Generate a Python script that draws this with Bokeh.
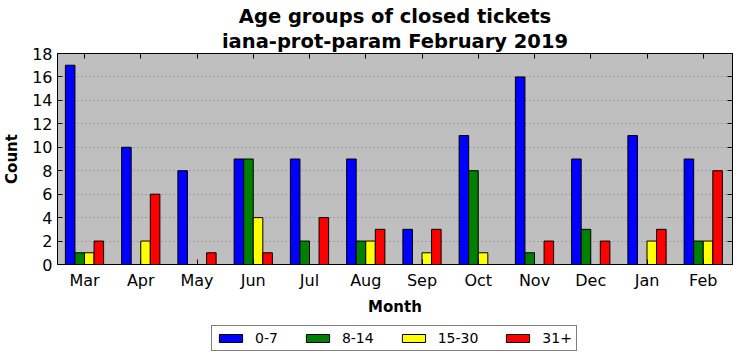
from bokeh.plotting import figure
from bokeh.layouts import column
from bokeh.models import (FixedTicker, LinearAxis, Legend, LegendItem, Range1d,
                          ColumnDataSource, Title)
from bokeh.embed import file_html
from bokeh.resources import INLINE

months = ["Mar", "Apr", "May", "Jun", "Jul", "Aug", "Sep", "Oct", "Nov", "Dec", "Jan", "Feb"]
age_0_7 = [17, 10, 8, 9, 9, 9, 3, 11, 16, 9, 11, 9]
age_8_14 = [1, 0, 0, 9, 2, 2, 0, 8, 1, 3, 0, 2]
age_15_30 = [1, 2, 0, 4, 0, 2, 1, 1, 0, 0, 2, 2]
age_31p = [2, 6, 1, 1, 4, 3, 3, 0, 2, 2, 3, 8]
series_names = ["0-7", "8-14", "15-30", "31+"]
series_values = [age_0_7, age_8_14, age_15_30, age_31p]
colors = ["#0000ff", "#008000", "#ffff00", "#ff0000"]
yticks = list(range(0, 19, 2))
title_lines = ["Age groups of closed tickets", "iana-prot-param February 2019"]

FONT = "DejaVu Sans"

p = figure(width=741, height=318, output_backend="svg", toolbar_location=None,
           title=None,
           x_range=Range1d(-0.48, 11.52), y_range=Range1d(0, 18),
           min_border_left=57, min_border_right=9, min_border_top=53,
           min_border_bottom=53)

p.background_fill_color = "#bfbfbf"
p.border_fill_color = "white"
p.outline_line_color = "black"
p.outline_line_width = 1

xs = list(range(len(months)))
bw = 0.17
offsets = [-1.5 * bw, -0.5 * bw, 0.5 * bw, 1.5 * bw]
sources = []
for name, vals, col, off in zip(series_names, series_values, colors, offsets):
    src = ColumnDataSource(dict(x=[x + off for x in xs], top=vals))
    sources.append(src)
    p.vbar(x="x", top="top", bottom=0, width=bw, source=src,
           fill_color=col, line_color="black", line_width=1)

p.xgrid.visible = False
p.ygrid.ticker = FixedTicker(ticks=yticks)
p.ygrid.grid_line_color = "#7a7a7a"
p.ygrid.grid_line_dash = "1 3"
p.ygrid.grid_line_width = 1

xticker = FixedTicker(ticks=xs)
ax = p.xaxis[0]
ax.ticker = xticker
ax.major_label_overrides = {i: m for i, m in enumerate(months)}
ax.axis_label = "Month"
ay = p.yaxis[0]
ay.ticker = FixedTicker(ticks=yticks)
ay.axis_label = "Count"

for a in (ax, ay):
    a.major_tick_in = 5
    a.major_tick_out = 0
    a.minor_tick_line_color = None
    a.axis_line_color = "black"
    a.major_tick_line_color = "black"
    a.major_label_text_font = FONT
    a.major_label_text_font_size = "16px"
    a.major_label_text_color = "black"
    a.axis_label_text_font = FONT
    a.axis_label_text_font_size = "15px"
    a.axis_label_text_font_style = "bold"
    a.axis_label_text_color = "black"
ax.major_label_standoff = 6
ax.axis_label_standoff = 5
ay.major_label_standoff = 5
ay.axis_label_standoff = 8

# mirrored tick marks on top and right (labels hidden)
top_ax = LinearAxis(ticker=xticker, major_tick_in=5, major_tick_out=0,
                    minor_tick_line_color=None, major_label_text_font_size="1px",
                    major_label_text_color=None,
                    major_label_standoff=0, axis_line_color="black")
right_ax = LinearAxis(ticker=FixedTicker(ticks=yticks), major_tick_in=5, major_tick_out=0,
                      minor_tick_line_color=None, major_label_text_font_size="1px",
                      major_label_text_color=None,
                      major_label_standoff=0, axis_line_color="black")
p.add_layout(top_ax, "above")
p.add_layout(right_ax, "right")

# two centred title lines (second line is nearest the frame)
for txt, so, lh in ((title_lines[1], 1, 0.9), (title_lines[0], 0, 0.9)):
    p.add_layout(Title(text=txt, align="center", text_font=FONT,
                       text_font_size="19.5px", text_font_style="bold",
                       text_color="black", standoff=so, offset=0,
                       text_line_height=lh), "above")

# legend strip below the chart (its bars share the data but lie outside its range)
lg = figure(width=741, height=43, output_backend="svg", toolbar_location=None,
            title=None, x_axis_location=None, y_axis_location=None,
            x_range=Range1d(-0.48, 11.52), y_range=Range1d(100, 101),
            min_border_left=0, min_border_right=0, min_border_top=0,
            min_border_bottom=0)
lg.grid.visible = False
lg.outline_line_color = None
lg.background_fill_color = "white"
lg.border_fill_color = "white"
items = []
for name, col, src in zip(series_names, colors, sources):
    r = lg.vbar(x="x", top="top", bottom=0, width=bw, source=src,
                fill_color=col, line_color="black", line_width=1)
    items.append(LegendItem(label=name, renderers=[r]))

legend = Legend(items=items, orientation="horizontal", location=(154, 10),
                label_text_font=FONT, label_text_font_size="14px",
                label_text_color="black", glyph_width=29, glyph_height=10,
                label_standoff=10, spacing=25, padding=4, label_height=13,
                border_line_color="black", border_line_width=1,
                background_fill_color="white", background_fill_alpha=1,
                margin=0)
lg.add_layout(legend, "center")

layout = column(p, lg, spacing=0)
open("out.html", "w").write(file_html(layout, INLINE))
